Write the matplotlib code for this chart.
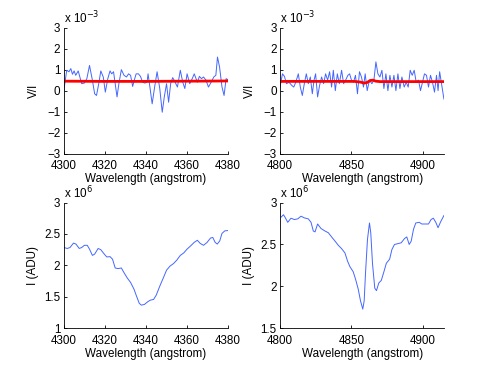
import matplotlib
matplotlib.use("Agg")
import matplotlib.pyplot as plt

plt.rcParams['font.family'] = ['Liberation Sans', 'DejaVu Sans']
plt.rcParams['font.size'] = 8.4

# top left: V/I around 4340 A (units of 1e-3)
wl_a = [4300.0, 4301.4, 4302.5, 4303.4, 4304.2, 4305.0, 4305.8, 4307.0, 4307.8, 4308.7,
        4310.0, 4311.2, 4312.5, 4313.9, 4315.0, 4315.9, 4317.0, 4318.0, 4319.2, 4320.2,
        4321.4, 4322.5, 4323.3, 4324.2, 4325.0, 4325.9, 4326.8, 4328.0, 4329.3, 4330.5,
        4331.5, 4332.5, 4333.5, 4334.3, 4335.2, 4336.3, 4337.3, 4338.4, 4339.4, 4340.5,
        4341.0, 4342.0, 4343.0, 4344.2, 4345.4, 4346.7, 4347.9, 4348.9, 4350.0, 4351.0,
        4352.0, 4353.0, 4354.2, 4355.3, 4356.7, 4357.9, 4358.9, 4360.0, 4361.3, 4362.5,
        4363.5, 4365.0, 4366.0, 4367.0, 4368.0, 4369.2, 4370.4, 4371.7, 4373.0, 4374.0,
        4374.8, 4375.8, 4377.0, 4378.0, 4379.0, 4380.0]
vi_a = [0.00, 0.97, 0.90, 1.05, 0.78, 0.94, 0.73, 0.94, 0.65, 0.33,
        0.36, 0.57, 1.20, 0.50, -0.15, -0.23, 0.33, 0.94, 0.65, -0.07,
        0.57, 0.94, 0.80, 0.90, 0.33, -0.30, 0.33, 1.00, 0.73, 0.65,
        0.80, 0.73, 0.20, 0.50, 0.80, 0.80, 0.68, 0.40, 0.36, 0.40,
        0.80, 0.10, -0.63, 0.17, 0.90, 0.10, -1.03, -0.30, 0.33, -0.55,
        0.33, 0.62, 0.40, 0.17, 0.97, 0.40, 0.10, 0.80, 0.33, 0.57,
        0.80, 0.40, 0.68, 0.57, 0.65, 0.50, 0.17, 0.40, 0.65, 0.73,
        1.60, 1.13, 0.17, -0.23, 0.57, 0.52]
fit_wl_a = [4300, 4320, 4340, 4360, 4380]
fit_a = [0.45, 0.44, 0.44, 0.45, 0.46]

# top right: V/I around 4860 A (units of 1e-3)
wl_b = [4800.0, 4801.7, 4803.1, 4804.5, 4806.3, 4808.2, 4809.6, 4811.0, 4812.8, 4814.2,
        4815.6, 4817.0, 4818.4, 4819.8, 4821.2, 4822.6, 4823.8, 4824.9, 4826.3, 4827.7,
        4829.1, 4830.5, 4831.9, 4833.3, 4834.7, 4836.1, 4837.3, 4838.7, 4840.1, 4841.5,
        4843.1, 4844.5, 4845.9, 4847.5, 4848.7, 4850.0, 4851.4, 4852.8, 4854.2, 4855.6,
        4857.0, 4858.4, 4859.6, 4861.0, 4862.6, 4864.3, 4865.7, 4867.1, 4868.5, 4869.9,
        4871.3, 4872.7, 4874.1, 4875.5, 4876.9, 4878.3, 4879.7, 4881.1, 4882.5, 4883.9,
        4885.3, 4886.9, 4888.3, 4889.7, 4891.1, 4892.5, 4893.9, 4895.3, 4896.9, 4898.3,
        4899.7, 4901.1, 4902.5, 4903.9, 4905.3, 4906.7, 4908.1, 4909.5, 4910.6, 4911.7,
        4914.7]
vi_b = [0.17, 0.80, 0.68, 0.33, 0.40, 0.25, 0.17, 0.40, 0.80, 0.17,
        -0.23, 0.33, 0.80, 0.33, 0.65, -0.15, 0.50, 0.80, -0.30, 0.25,
        0.65, 0.33, 0.80, 0.50, 0.90, 0.17, 0.97, 0.00, 0.80, 0.33,
        0.97, 0.33, 0.50, 0.73, 0.80, 0.50, 0.40, 0.73, -0.15, 0.90,
        0.65, 0.17, 0.80, 0.00, 0.50, 0.33, 0.50, 1.37, 0.80, 0.65,
        0.97, 0.10, 0.80, 0.00, 0.73, 0.17, 0.73, 0.00, 0.80, 0.10,
        0.65, 0.17, 0.40, 0.17, 0.97, 0.73, 0.97, 0.40, 0.50, 0.00,
        0.40, 0.80, 0.73, 0.17, 0.73, 0.40, -0.07, 0.73, 0.00, 0.90,
        -0.40]
fit_wl_b = [4800, 4852, 4856, 4859, 4861, 4863, 4865, 4867, 4870, 4915]
fit_b = [0.44, 0.44, 0.41, 0.36, 0.39, 0.48, 0.50, 0.45, 0.43, 0.43]

# bottom left: intensity around H-gamma (units of 1e6 ADU)
wl_c = [4300.0, 4301.7, 4303.0, 4304.7, 4305.9, 4307.5, 4308.7, 4310.0, 4311.4, 4312.5,
        4313.9, 4315.0, 4316.7, 4318.0, 4319.7, 4320.9, 4322.5, 4323.7, 4325.0, 4326.4,
        4328.0, 4329.2, 4330.9, 4332.5, 4334.2, 4335.3, 4336.7, 4337.7, 4339.2, 4340.9,
        4342.2, 4343.7, 4345.0, 4346.7, 4348.4, 4350.0, 4351.7, 4353.4, 4355.0, 4356.7,
        4358.4, 4360.0, 4361.7, 4363.4, 4365.0, 4366.4, 4368.0, 4369.7, 4371.4, 4372.5,
        4373.7, 4374.7, 4375.9, 4377.0, 4378.4, 4380.0]
i_c = [2.285, 2.27, 2.285, 2.355, 2.34, 2.27, 2.285, 2.32, 2.32, 2.26,
       2.16, 2.18, 2.27, 2.25, 2.18, 2.135, 2.14, 2.10, 1.96, 1.95,
       1.96, 1.89, 1.80, 1.73, 1.62, 1.52, 1.40, 1.37, 1.38, 1.425,
       1.45, 1.46, 1.53, 1.67, 1.80, 1.925, 1.99, 2.03, 2.085, 2.16,
       2.20, 2.26, 2.31, 2.365, 2.40, 2.35, 2.32, 2.365, 2.435, 2.445,
       2.365, 2.34, 2.39, 2.51, 2.55, 2.555]

# bottom right: intensity around H-beta (units of 1e6 ADU)
wl_d = [4800.7, 4802.4, 4803.5, 4805.4, 4807.7, 4810.0, 4812.4, 4814.7, 4817.0, 4819.8,
        4821.7, 4823.3, 4824.5, 4826.3, 4828.7, 4831.5, 4833.8, 4836.1, 4838.5, 4840.8,
        4843.1, 4845.4, 4847.3, 4848.9, 4851.2, 4852.8, 4854.7, 4856.3, 4857.9, 4858.9,
        4859.8, 4861.2, 4862.6, 4863.5, 4864.7, 4866.3, 4867.5, 4869.1, 4870.9, 4872.7,
        4874.4, 4876.7, 4878.3, 4880.1, 4882.5, 4884.8, 4887.1, 4888.7, 4890.4, 4891.8,
        4893.4, 4895.0, 4897.4, 4899.2, 4901.5, 4903.9, 4905.7, 4907.3, 4909.0, 4910.6,
        4912.4, 4914.7]
i_d = [2.825, 2.854, 2.825, 2.764, 2.813, 2.797, 2.805, 2.837, 2.817, 2.805,
       2.764, 2.66, 2.65, 2.744, 2.69, 2.66, 2.64, 2.59, 2.54, 2.49,
       2.45, 2.40, 2.30, 2.236, 2.175, 2.09, 1.97, 1.83, 1.73, 1.83,
       2.15, 2.56, 2.756, 2.64, 2.276, 1.98, 1.95, 2.04, 2.073, 2.175,
       2.276, 2.325, 2.44, 2.50, 2.51, 2.52, 2.57, 2.59, 2.50, 2.54,
       2.68, 2.756, 2.764, 2.744, 2.744, 2.744, 2.797, 2.813, 2.764, 2.70,
       2.77, 2.845]

blue = '#4466ff'
red = '#ff0000'

fig = plt.figure(figsize=(4.91, 3.69), dpi=100)
pos = [[0.13, 0.5838, 0.3347, 0.3412], [0.5703, 0.5838, 0.3347, 0.3412],
       [0.13, 0.11, 0.3347, 0.3412], [0.5703, 0.11, 0.3347, 0.3412]]
axs = [fig.add_axes(p) for p in pos]


def style(ax, scale_txt):
    # matlab look: box off, ticks in
    ax.spines['top'].set_visible(False)
    ax.spines['right'].set_visible(False)
    for s in ['left', 'bottom']:
        ax.spines[s].set_linewidth(0.6)
    ax.tick_params(direction='in', length=2.5, width=0.6)
    ax.tick_params(axis='x', pad=4.5)
    ax.tick_params(axis='y', pad=2.5)
    ax.set_xlabel('Wavelength (angstrom)', labelpad=1)
    ax.text(0.0, 1.01, scale_txt, transform=ax.transAxes, ha='left', va='bottom')


ax = axs[0]
ax.plot(wl_a, vi_a, color=blue, lw=0.7)
ax.plot(fit_wl_a, fit_a, color=red, lw=2.0)
ax.set_xlim(4300, 4380)
ax.set_ylim(-3, 3)
ax.set_xticks([4300, 4320, 4340, 4360, 4380])
ax.set_yticks([-3, -2, -1, 0, 1, 2, 3])
ax.set_ylabel('V/I', labelpad=5)
style(ax, r'x 10$^{-3}$')

ax = axs[1]
ax.plot(wl_b, vi_b, color=blue, lw=0.7)
ax.plot(fit_wl_b, fit_b, color=red, lw=2.0)
ax.set_xlim(4800, 4915)
ax.set_ylim(-3, 3)
ax.set_xticks([4800, 4850, 4900])
ax.set_yticks([-3, -2, -1, 0, 1, 2, 3])
ax.set_ylabel('V/I', labelpad=5)
style(ax, r'x 10$^{-3}$')

ax = axs[2]
ax.plot(wl_c, i_c, color=blue, lw=0.7)
ax.set_xlim(4300, 4380)
ax.set_ylim(1, 3)
ax.set_xticks([4300, 4320, 4340, 4360, 4380])
ax.set_yticks([1, 1.5, 2, 2.5, 3])
ax.set_yticklabels(['1', '1.5', '2', '2.5', '3'])
ax.set_ylabel('I (ADU)', labelpad=4)
style(ax, r'x 10$^{6}$')

ax = axs[3]
ax.plot(wl_d, i_d, color=blue, lw=0.7)
ax.set_xlim(4800, 4915)
ax.set_ylim(1.5, 3)
ax.set_xticks([4800, 4850, 4900])
ax.set_yticks([1.5, 2, 2.5, 3])
ax.set_yticklabels(['1.5', '2', '2.5', '3'])
ax.set_ylabel('I (ADU)', labelpad=4)
style(ax, r'x 10$^{6}$')

plt.savefig('out.png', dpi=100)
